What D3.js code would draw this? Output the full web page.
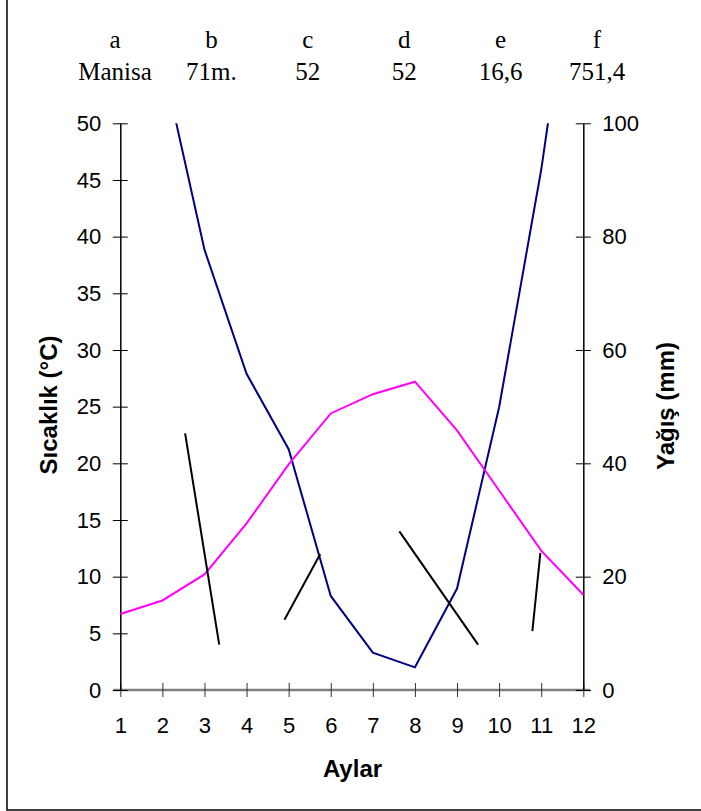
<!DOCTYPE html>
<html>
<head>
<meta charset="utf-8">
<script src="https://cdn.jsdelivr.net/npm/d3@7"></script>
<style>
  body { margin: 0; background: #fff; }
  svg { display: block; }
</style>
</head>
<body>
<div id="chart"></div>
<script>
// station header
const headerKeys = ['a', 'b', 'c', 'd', 'e', 'f']
const headerValues = ['Manisa', '71m.', '52', '52', '16,6', '751,4']

// monthly values
const months = [1, 2, 3, 4, 5, 6, 7, 8, 9, 10, 11, 12]
const temperature = [6.7, 7.9, 10.2, 14.7, 19.9, 24.4, 26.1, 27.2, 22.9, 17.6, 12.3, 8.4]
const precipitation = [125, 111, 77.7, 55.8, 42.5, 16.6, 6.6, 4.0, 17.9, 49.9, 91.8, 143]

// free black strokes (month, °C)
const strokeFrom = [[2.54, 22.65], [4.90, 6.2], [7.63, 14.0], [10.79, 5.2]]
const strokeTo = [[3.35, 4.0], [5.75, 12.0], [9.50, 4.0], [10.98, 12.1]]

const tempTicks = [0, 5, 10, 15, 20, 25, 30, 35, 40, 45, 50]
const rainTicks = [0, 20, 40, 60, 80, 100]

const width = 701
const height = 811
const plotLeft = 120.3
const plotRight = 583.3
const plotTop = 123.3
const plotBottom = 690

const svg = d3.select('#chart').append('svg')
  .attr('width', width)
  .attr('height', height)

// frame
svg.append('rect')
  .attr('x', 7).attr('y', -10)
  .attr('width', 720).attr('height', 820)
  .attr('fill', 'none')
  .attr('stroke', '#000')
  .attr('stroke-width', 1.5)

const xScale = d3.scaleLinear().domain([1, 12]).range([plotLeft, plotRight])
const yScale = d3.scaleLinear().domain([0, 50]).range([plotBottom, plotTop])
const rScale = d3.scaleLinear().domain([0, 100]).range([plotBottom, plotTop])
const headerScale = d3.scalePoint().domain(headerKeys).range([115, 597])

// header rows
const header = svg.append('g')
  .attr('font-family', '"Liberation Serif", "Times New Roman", serif')
  .attr('font-size', '25px')
  .attr('text-anchor', 'middle')

header.selectAll('text.key').data(headerKeys)
  .enter().append('text')
  .attr('class', 'key')
  .attr('x', function(d) { return headerScale(d) })
  .attr('y', 48)
  .text(function(d) { return d })

header.selectAll('text.val').data(headerValues)
  .enter().append('text')
  .attr('class', 'val')
  .attr('x', function(d, i) { return headerScale(headerKeys[i]) })
  .attr('y', 80)
  .text(function(d) { return d })

// axes
const xAxis = d3.axisBottom(xScale).tickValues(months).tickSizeOuter(0)
const yAxis = d3.axisLeft(yScale).tickValues(tempTicks).tickSizeOuter(0)
const rAxis = d3.axisRight(rScale).tickValues(rainTicks).tickSizeOuter(0)

const gx = svg.append('g').attr('transform', 'translate(0,' + plotBottom + ')').call(xAxis)
gx.select('.domain').attr('stroke', '#808080').attr('stroke-width', 2.5)
  .attr('d', 'M' + (plotLeft - 7) + ',0H' + (plotRight + 7))
gx.selectAll('.tick line').attr('y1', -7).attr('y2', 7).attr('stroke', '#333')
gx.selectAll('.tick text').attr('y', 43).attr('dy', 0)

const gy = svg.append('g').attr('transform', 'translate(' + plotLeft + ',0)').call(yAxis)
gy.select('.domain').attr('stroke-width', 1.5)
gy.selectAll('.tick line').attr('x1', -7.5).attr('x2', 7.5)
gy.selectAll('.tick text').attr('x', -19)

const gr = svg.append('g').attr('transform', 'translate(' + plotRight + ',0)').call(rAxis)
gr.select('.domain').attr('stroke-width', 1.5)
gr.selectAll('.tick line').attr('x1', -7.5).attr('x2', 7.5)
gr.selectAll('.tick text').attr('x', 19)

svg.selectAll('.tick text')
  .attr('font-family', '"Liberation Sans", Arial, sans-serif')
  .attr('font-size', '22px')
  .attr('fill', '#000')

// axis titles
svg.append('text')
  .attr('x', 352.5).attr('y', 777)
  .attr('text-anchor', 'middle')
  .attr('font-family', '"Liberation Sans", Arial, sans-serif')
  .attr('font-weight', 'bold')
  .attr('font-size', '24px')
  .text('Aylar')

svg.append('text')
  .attr('transform', 'translate(56.5,405) rotate(-90)')
  .attr('text-anchor', 'middle')
  .attr('font-family', '"Liberation Sans", Arial, sans-serif')
  .attr('font-weight', 'bold')
  .attr('font-size', '24px')
  .text('Sıcaklık (°C)')

svg.append('text')
  .attr('transform', 'translate(673.5,406) rotate(-90)')
  .attr('text-anchor', 'middle')
  .attr('font-family', '"Liberation Sans", Arial, sans-serif')
  .attr('font-weight', 'bold')
  .attr('font-size', '24px')
  .text('Yağış (mm)')

// clip for the rain line
svg.append('clipPath').attr('id', 'plot')
  .append('rect')
  .attr('x', plotLeft).attr('y', plotTop)
  .attr('width', plotRight - plotLeft).attr('height', plotBottom - plotTop)

const rainLine = d3.line()
  .x(function(d, i) { return xScale(months[i]) })
  .y(function(d) { return rScale(d) })

svg.append('path')
  .datum(precipitation)
  .attr('clip-path', 'url(#plot)')
  .attr('fill', 'none')
  .attr('stroke', '#000080')
  .attr('stroke-width', 2)
  .attr('d', rainLine)

const tempLine = d3.line()
  .x(function(d, i) { return xScale(months[i]) })
  .y(function(d) { return yScale(d) })

svg.append('path')
  .datum(temperature)
  .attr('fill', 'none')
  .attr('stroke', '#ff00ff')
  .attr('stroke-width', 2)
  .attr('d', tempLine)

svg.selectAll('line.stroke').data(strokeFrom)
  .enter().append('line')
  .attr('class', 'stroke')
  .attr('x1', function(d) { return xScale(d[0]) })
  .attr('y1', function(d) { return yScale(d[1]) })
  .attr('x2', function(d, i) { return xScale(strokeTo[i][0]) })
  .attr('y2', function(d, i) { return yScale(strokeTo[i][1]) })
  .attr('stroke', '#000')
  .attr('stroke-width', 2)
</script>
</body>
</html>
